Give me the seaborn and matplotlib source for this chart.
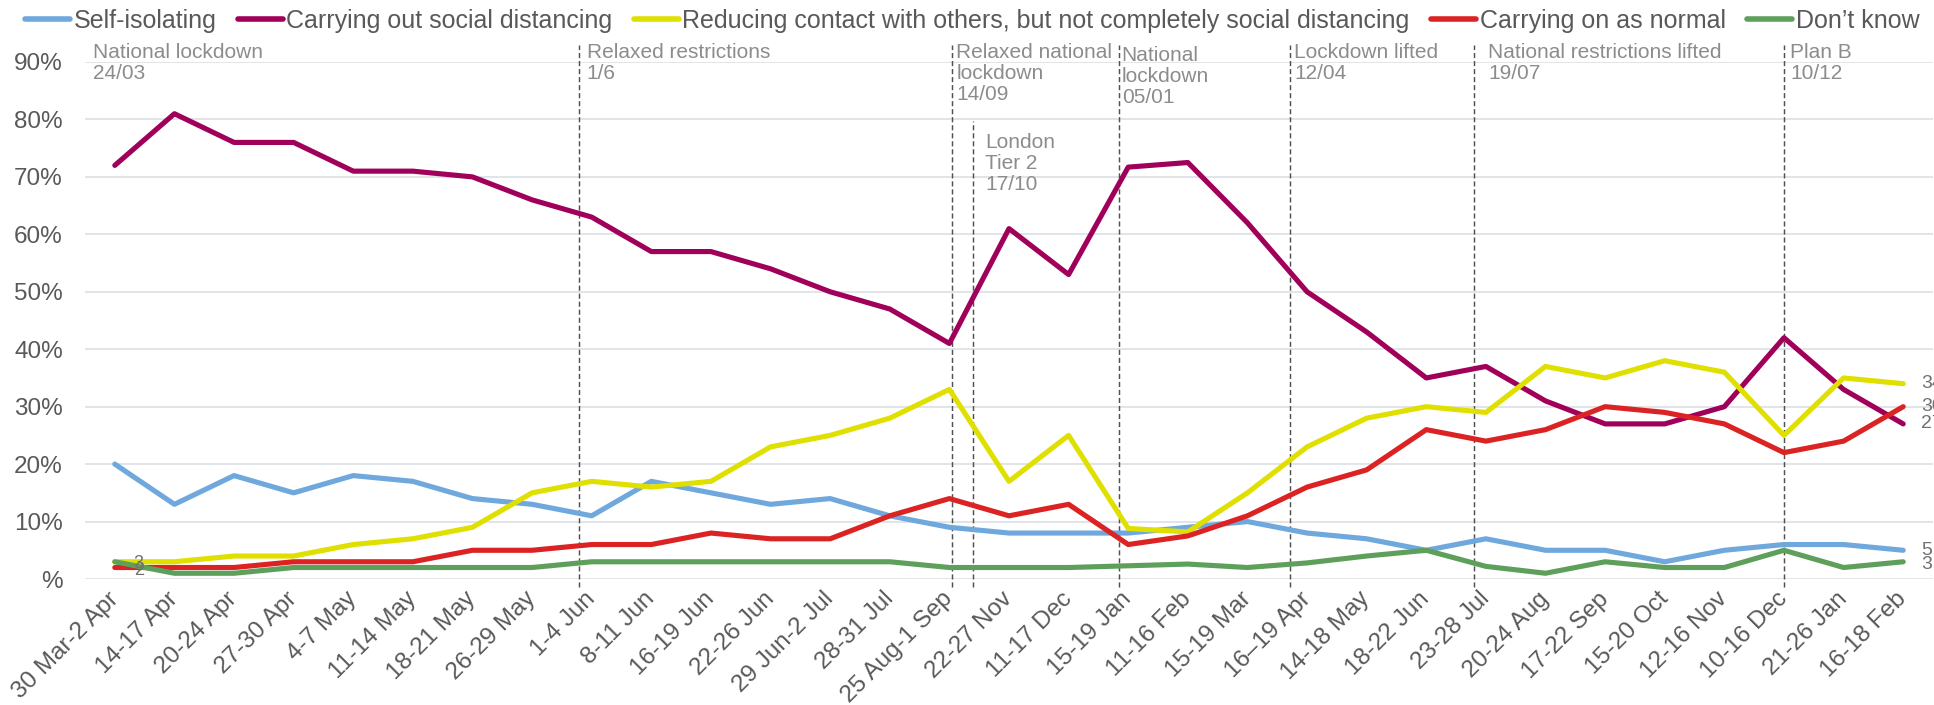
import numpy as np
import pandas as pd
import matplotlib
matplotlib.use("Agg")
import matplotlib.pyplot as plt
import seaborn as sns

# Survey waves (x axis)
periods = [
    "30 Mar-2 Apr", "14-17 Apr", "20-24 Apr", "27-30 Apr", "4-7 May", "11-14 May",
    "18-21 May", "26-29 May", "1-4 Jun", "8-11 Jun", "16-19 Jun", "22-26 Jun",
    "29 Jun-2 Jul", "28-31 Jul", "25 Aug-1 Sep", "22-27 Nov", "11-17 Dec",
    "15-19 Jan", "11-16 Feb", "15-19 Mar", "16\u201319 Apr", "14-18 May",
    "18-22 Jun", "23-28 Jul", "20-24 Aug", "17-22 Sep", "15-20 Oct",
    "12-16 Nov", "10-16 Dec", "21-26 Jan", "16-18 Feb",
]

# Share of respondents (%) per behaviour
self_isolating = [20, 13, 18, 15, 18, 17, 14, 13, 11, 17, 15, 13, 14, 11, 9, 8, 8,
                  8, 9, 10, 8, 7, 5, 7, 5, 5, 3, 5, 6, 6, 5]
social_distancing = [72, 81, 76, 76, 71, 71, 70, 66, 63, 57, 57, 54, 50, 47, 41, 61, 53,
                     71.7, 72.5, 62, 50, 43, 35, 37, 31, 27, 27, 30, 42, 33, 27]
reducing_contact = [3, 3, 4, 4, 6, 7, 9, 15, 17, 16, 17, 23, 25, 28, 33, 17, 25,
                    8.8, 8.2, 15, 23, 28, 30, 29, 37, 35, 38, 36, 25, 35, 34]
carrying_on = [2, 2, 2, 3, 3, 3, 5, 5, 6, 6, 8, 7, 7, 11, 14, 11, 13,
               6, 7.5, 11, 16, 19, 26, 24, 26, 30, 29, 27, 22, 24, 30]
dont_know = [3, 1, 1, 2, 2, 2, 2, 2, 3, 3, 3, 3, 3, 3, 2, 2, 2,
             2.3, 2.6, 2, 2.8, 4, 5, 2.2, 1, 3, 2, 2, 5, 2, 3]

series_names = [
    "Self-isolating",
    "Carrying out social distancing",
    "Reducing contact with others, but not completely social distancing",
    "Carrying on as normal",
    "Don\u2019t know",
]
series_values = [self_isolating, social_distancing, reducing_contact, carrying_on, dont_know]
series_colors = ["#6FA8DC", "#A0005A", "#E0E000", "#DC2323", "#5EA05B"]

# Policy milestones, positioned on the wave axis
event_labels = [
    "Relaxed restrictions\n1/6",
    "Relaxed national\nlockdown\n14/09",
    "London\nTier 2\n17/10",
    "National\nlockdown\n05/01",
    "Lockdown lifted\n12/04",
    "National restrictions lifted\n19/07",
    "Plan B\n10/12",
]
event_positions = [7.78, 14.05, 14.4, 16.84, 19.72, 22.8, 28.0]

y_ticks = list(range(0, 91, 10))
y_tick_labels = ["%"] + [f"{v}%" for v in y_ticks[1:]]

# Long-form table for seaborn
pos = np.arange(len(periods))
df = pd.concat(
    [pd.DataFrame({"pos": pos, "period": periods, "value": vals, "series": name})
     for name, vals in zip(series_names, series_values)],
    ignore_index=True,
)

sns.set_theme(style="white")
plt.rcParams["font.family"] = ["Liberation Sans", "DejaVu Sans"]

W, H = 1934, 705
fig = plt.figure(figsize=(W / 100, H / 100), dpi=100)
ax_left, ax_right, ax_top, ax_bottom = 85, 1933, 62, 579
ax = fig.add_axes([ax_left / W, 1 - ax_bottom / H,
                   (ax_right - ax_left) / W, (ax_bottom - ax_top) / H])

TEXT = "#595959"
NOTE = "#8C8C8C"

ax.set_yticks(y_ticks)
ax.grid(axis="y", color="#D9DDE3", linewidth=1.1)
ax.grid(axis="x", visible=False)
ax.set_axisbelow(True)

sns.lineplot(
    data=df, x="pos", y="value", hue="series", hue_order=series_names,
    palette=dict(zip(series_names, series_colors)), linewidth=3.7,
    sort=False, ax=ax, legend=True,
    solid_capstyle="round", solid_joinstyle="round",
)

ax.set_xlim(-0.5, len(periods) - 0.5)
ax.set_ylim(0, 90)
for s in ax.spines.values():
    s.set_visible(False)
ax.set_xlabel("")
ax.set_ylabel("")

ax.set_yticklabels(y_tick_labels)
ax.tick_params(axis="y", length=0, pad=16, labelsize=17.5, labelcolor=TEXT)
ax.set_xticks(pos)
ax.set_xticklabels(periods, rotation=45, ha="right", va="center",
                   rotation_mode="anchor")
ax.tick_params(axis="x", length=0, pad=12, labelsize=17.5, labelcolor=TEXT)

# Milestone lines and notes
px = 1 / 100 * 72  # pixels -> points
plot_h = ax_bottom - ax_top
line_bottom = (ax_bottom - 587) / plot_h
line_top = (ax_bottom - 45) / plot_h
note_top_px = 43
note_style = dict(ha="left", va="top", fontsize=15, color=NOTE,
                  linespacing=1.13, annotation_clip=False,
                  xycoords=("data", "axes fraction"), textcoords="offset points")
for label, xpos in zip(event_labels, event_positions):
    top = line_top
    ty = note_top_px
    dx = 4
    if label.startswith("London"):
        top = (ax_bottom - 121) / plot_h
        ty = 133
        dx = 12
    elif label.startswith("National\n"):
        ty = note_top_px + 3
        dx = 3
    elif label.startswith("Relaxed restrictions"):
        dx = 8
    elif label.startswith("National restrictions"):
        dx = 14
    elif label.startswith("Plan B"):
        dx = 6
    ax.axvline(xpos, ymin=line_bottom, ymax=top, color="#505050",
               linewidth=1.05, linestyle=(0, (3.5, 2)), clip_on=False, zorder=1)
    ax.annotate(label, xy=(xpos, (ax_bottom - ty) / plot_h),
                xytext=(dx * px, 0), **note_style)

ax.annotate("National lockdown\n24/03", xy=(-0.5, (ax_bottom - note_top_px) / plot_h),
            xytext=(8 * px, 0), **note_style)

# Value labels at the ends of the series
last = len(periods) - 1
end_shift = {series_names[4]: 3}
for name, vals in zip(series_names, series_values):
    ax.annotate(f"{vals[-1]:g}", xy=(last, vals[-1]),
                xytext=(18 * px, -end_shift.get(name, 0) * px),
                textcoords="offset points", ha="left", va="center", fontsize=14,
                color="#707070", annotation_clip=False)
for vals, dy in [(dont_know, 2), (carrying_on, 3)]:
    ax.annotate(f"{vals[0]:g}", xy=(0, vals[0]), xytext=(19 * px, -dy * px),
                textcoords="offset points", ha="left", va="center", fontsize=13,
                color="#707070", annotation_clip=False)

# Legend across the top
handles, labels = ax.get_legend_handles_labels()
if ax.get_legend() is not None:
    ax.get_legend().remove()
leg = fig.legend(handles, labels, loc="center", bbox_to_anchor=(972 / W, 1 - 21 / H),
                 ncol=5, frameon=False, fontsize=18, handlelength=1.8,
                 handletextpad=0.15, columnspacing=0.85, borderaxespad=0,
                 borderpad=0, labelcolor=TEXT)
for h in leg.legend_handles:
    h.set_linewidth(4)

fig.savefig("out.png", dpi=100, facecolor="white")
